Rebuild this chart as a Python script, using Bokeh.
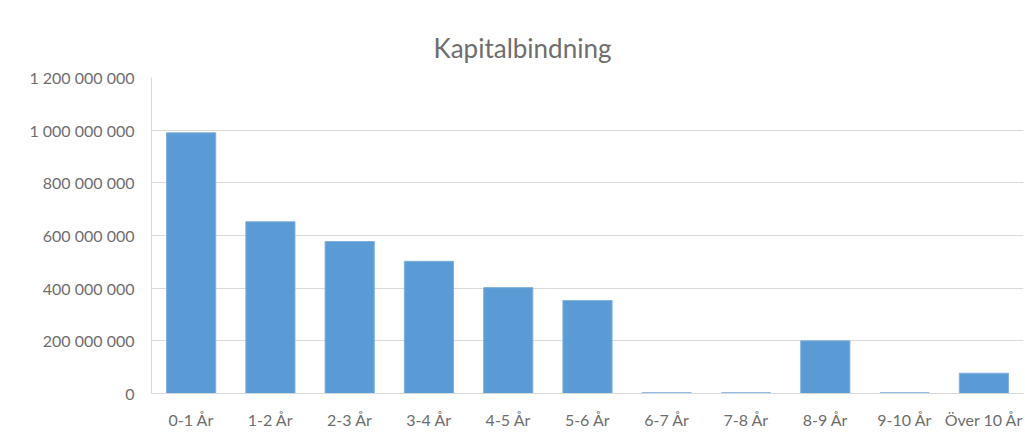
from bokeh.plotting import figure
from bokeh.models import FactorRange, Range1d, FixedTicker, CustomJSTickFormatter, ColumnDataSource, Title
from bokeh.embed import file_html
from bokeh.resources import INLINE

categories = ["0-1 År", "1-2 År", "2-3 År", "3-4 År", "4-5 År", "5-6 År",
              "6-7 År", "7-8 År", "8-9 År", "9-10 År", "Över 10 År"]
values = [990_000_000, 652_000_000, 577_000_000, 502_000_000, 402_000_000, 353_000_000,
          3_000_000, 3_000_000, 200_000_000, 3_000_000, 77_000_000]
y_ticks = [0, 200_000_000, 400_000_000, 600_000_000, 800_000_000, 1_000_000_000, 1_200_000_000]

src = ColumnDataSource(data=dict(cat=categories, val=values))

FONT = "Lato"
GREY = "#6e6e6e"

p = figure(width=1025, height=437, output_backend="svg", toolbar_location=None,
           x_range=FactorRange(*categories, range_padding=0),
           y_range=Range1d(0, 1_200_000_000),
           min_border_left=151, min_border_right=2, min_border_top=77, min_border_bottom=44)

p.title = Title(text="Kapitalbindning", align="left", text_font=FONT,
                text_font_size="26px", text_font_style="normal", text_color=GREY,
                standoff=27, offset=282)

p.vbar(x="cat", top="val", width=0.62, source=src, fill_color="#5B9BD5",
       line_color="#7fb0dd", line_width=1)

p.yaxis.ticker = FixedTicker(ticks=y_ticks)
p.yaxis.formatter = CustomJSTickFormatter(code="""
return Math.round(tick).toString().replace(/\\B(?=(\\d{3})+(?!\\d))/g, " ");
""")
for ax in (p.xaxis, p.yaxis):
    ax.major_tick_line_color = None
    ax.minor_tick_line_color = None
    ax.axis_line_color = "#d9d9d9"
    ax.major_label_text_font = FONT
    ax.major_label_text_font_size = "16px"
    ax.major_label_text_color = GREY
p.yaxis.major_label_standoff = 11
p.xaxis.major_label_standoff = 10

p.xgrid.grid_line_color = None
p.ygrid.grid_line_color = "#d9d9d9"
p.ygrid.ticker = FixedTicker(ticks=y_ticks)
p.outline_line_color = None
p.background_fill_color = "white"
p.border_fill_color = "white"

open("out.html", "w").write(file_html(p, INLINE))
